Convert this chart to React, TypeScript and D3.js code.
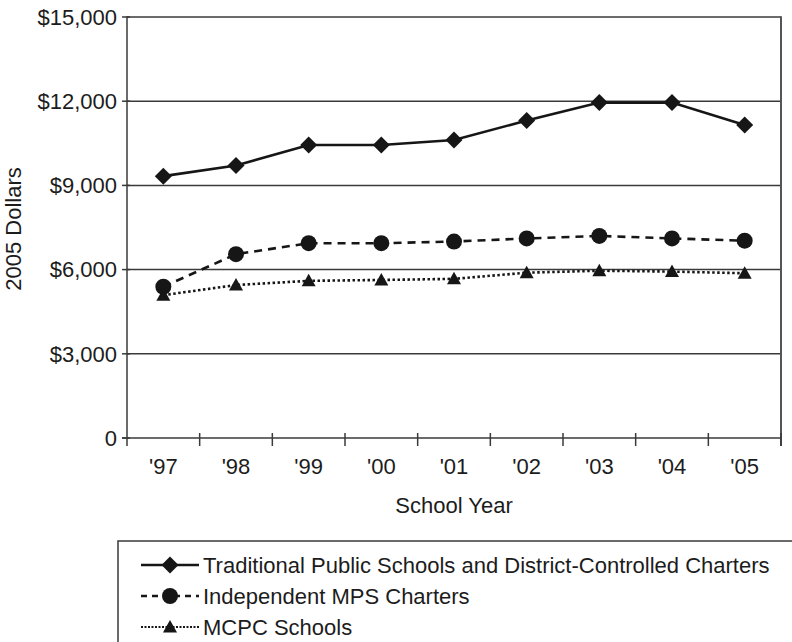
import React from "react";
import * as d3 from "d3";

const years = ["'97", "'98", "'99", "'00", "'01", "'02", "'03", "'04", "'05"];
const traditional = [9330, 9710, 10440, 10440, 10620, 11310, 11950, 11950, 11150];
const independent = [5390, 6550, 6940, 6940, 7000, 7110, 7200, 7110, 7030];
const mcpc = [5090, 5450, 5600, 5630, 5670, 5890, 5960, 5930, 5870];
const yTicks = [0, 3000, 6000, 9000, 12000, 15000];
const legendLabels = [
  "Traditional Public Schools and District-Controlled Charters",
  "Independent MPS Charters",
  "MCPC Schools",
];

const FONT = "'Liberation Sans', Arial, Helvetica, sans-serif";
const INK = "#161616";
const GRID = "#3a3a3a";
const TXT = "#1c1c1c";
const FS = 22;

const fmt = (v: number) => (v === 0 ? "0" : "$" + d3.format(",")(v));

function Marker({ kind, x, y }: { kind: string; x: number; y: number }) {
  if (kind === "diamond") {
    const p = `M0,-8.5L8.5,0L0,8.5L-8.5,0Z`;
    return <path d={p} transform={`translate(${x},${y})`} fill={INK} />;
  }
  if (kind === "circle") {
    return <circle cx={x} cy={y} r={8} fill={INK} />;
  }
  const p = `M0,-7L7,5.5L-7,5.5Z`;
  return <path d={p} transform={`translate(${x},${y})`} fill={INK} />;
}

export default function App() {
  const left = 127, right = 781, top = 17, bottom = 438;
  const x = d3.scaleBand<string>().domain(years).range([left, right]).padding(0);
  const y = d3.scaleLinear().domain([0, 15000]).range([bottom, top]);
  const cx = (i: number) => (x(years[i]) as number) + x.bandwidth() / 2;
  const line = d3
    .line<number>()
    .x((_, i) => cx(i))
    .y((d) => y(d));

  const series = [
    { data: traditional, kind: "diamond", dash: "none", w: 2.6 },
    { data: independent, kind: "circle", dash: "8,6", w: 2.6 },
    { data: mcpc, kind: "triangle", dash: "2.5,2.5", w: 2.6 },
  ];

  const boundaries = years.map((yr) => x(yr) as number).slice(1).concat([right]);

  return (
    <svg
      width={792}
      height={642}
      style={{ position: "absolute", left: 0, top: 0, background: "#fff" }}
      fontFamily={FONT}
    >
      {yTicks.filter((t) => t > 0).map((t) => (
        <line key={t} x1={left} x2={right} y1={y(t)} y2={y(t)} stroke={GRID} strokeWidth={1.5} />
      ))}
      <line x1={right} x2={right} y1={top - 0.75} y2={bottom + 8} stroke="#555" strokeWidth={2} />
      <line x1={left} x2={left} y1={top - 0.75} y2={bottom + 8} stroke={GRID} strokeWidth={1.5} />
      <line x1={left - 5} x2={right} y1={bottom} y2={bottom} stroke={GRID} strokeWidth={1.5} />
      {yTicks.map((t) => (
        <g key={"yt" + t}>
          <line x1={left - 5} x2={left + 3} y1={y(t)} y2={y(t)} stroke={GRID} strokeWidth={1.5} />
          <text x={left - 10} y={y(t)} dy="0.35em" textAnchor="end" fontSize={FS} fill={TXT}>
            {fmt(t)}
          </text>
        </g>
      ))}
      {boundaries.map((b, i) => (
        <line key={"xt" + i} x1={b} x2={b} y1={bottom - 5} y2={bottom + 8} stroke={GRID} strokeWidth={1.5} />
      ))}
      {years.map((yr, i) => (
        <text key={yr} x={cx(i)} y={474} textAnchor="middle" fontSize={FS} fill={TXT}>
          {yr}
        </text>
      ))}
      <text x={454} y={513} textAnchor="middle" fontSize={FS} fill={TXT}>
        School Year
      </text>
      <text transform={`translate(21,229) rotate(-90)`} textAnchor="middle" fontSize={FS} fill={TXT}>
        2005 Dollars
      </text>

      {series.map((s, si) => (
        <g key={"s" + si}>
          <path d={line(s.data) as string} fill="none" stroke={INK} strokeWidth={s.w} strokeDasharray={s.dash} />
          {s.data.map((v, i) => (
            <Marker key={i} kind={s.kind} x={cx(i)} y={y(v)} />
          ))}
        </g>
      ))}

      <rect x={118} y={541} width={700} height={120} fill="none" stroke={GRID} strokeWidth={1.5} />
      {series.map((s, si) => {
        const ly = 565 + si * 31;
        return (
          <g key={"lg" + si}>
            <line x1={141} x2={199} y1={ly} y2={ly} stroke={INK} strokeWidth={si === 2 ? 2 : 2.6}
              strokeDasharray={si === 0 ? "none" : si === 1 ? "6,5" : "2,1.5"} />
            <Marker kind={s.kind} x={170} y={ly} />
            <text x={203} y={ly} dy="0.35em" fontSize={FS} fill={TXT}>
              {legendLabels[si]}
            </text>
          </g>
        );
      })}
    </svg>
  );
}
